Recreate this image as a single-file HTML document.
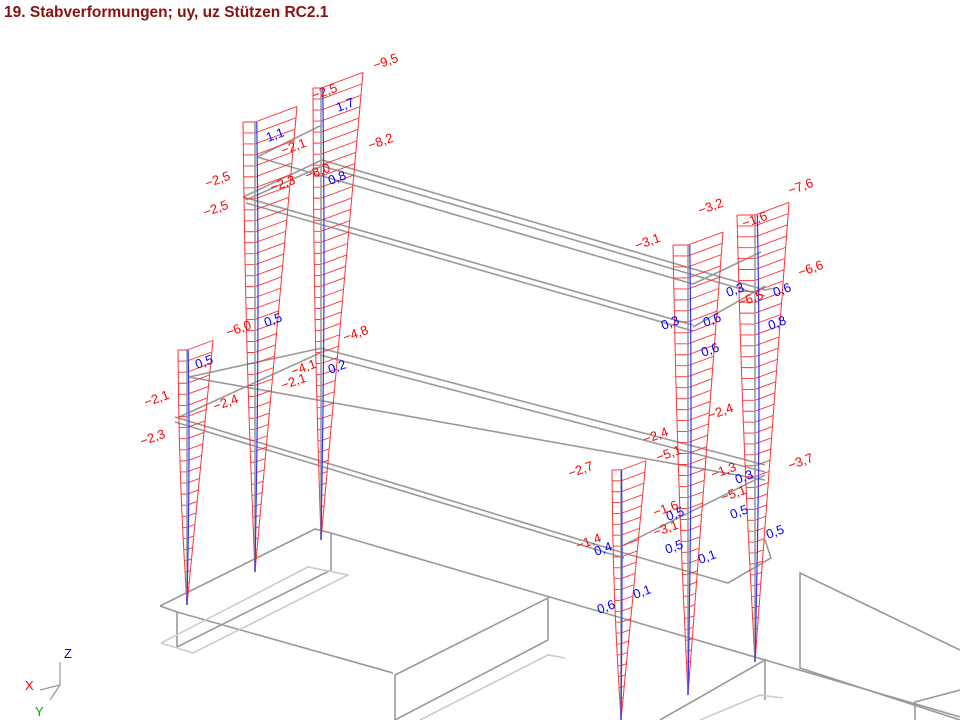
<!DOCTYPE html>
<html><head><meta charset="utf-8"><style>
html,body{margin:0;padding:0;background:#fff;width:960px;height:720px;overflow:hidden}
svg{display:block}
.r{fill:#f00}.b{fill:#00f}
text{font-family:"Liberation Sans",sans-serif;font-size:13px}
</style></head><body>
<svg id="s" width="960" height="720" viewBox="0 0 960 720" xmlns="http://www.w3.org/2000/svg">
<text x="4" y="17" style="font-size:15.5px;font-weight:bold;fill:#8b1010">19. Stabverformungen; uy, uz Stützen RC2.1</text>
<g id="frame" stroke="#999" stroke-width="1.6" fill="none">
<polyline points="160,606 315,529 331,533 331,570 177,647 177,612 160,606"/>
<line x1="177" y1="612" x2="393" y2="673"/>
<line x1="331" y1="533" x2="960" y2="717"/>
<polyline points="161,643 308,567 348,575 193,653 161,643" stroke="#ccc"/>
<polyline points="395,720 395,675 548,598 548,640 395,720"/>
<polyline points="420,720 548,655 565,658" stroke="#ccc"/>
<polyline points="660,720 765,660 765,700"/>
<polyline points="700,720 760,695 783,698" stroke="#ccc"/>
<polyline points="960,650 800,573 800,668 960,720"/>
<polyline points="915,720 915,702 960,690"/>
<line x1="189" y1="377" x2="322" y2="348"/>
<line x1="177" y1="418" x2="322" y2="352"/>
<line x1="320" y1="348" x2="765" y2="465"/>
<line x1="320" y1="355" x2="765" y2="472"/>
<line x1="175" y1="417" x2="624" y2="553"/>
<line x1="175" y1="422" x2="624" y2="558"/>
<line x1="189" y1="377" x2="765" y2="480"/>
<polyline points="624,553 728,583 771,558 765,540"/>
<line x1="624" y1="545" x2="690" y2="512"/>
<line x1="690" y1="512" x2="765" y2="475"/>
<line x1="257" y1="157" x2="322" y2="125"/>
<line x1="243" y1="197" x2="322" y2="160"/>
<line x1="246" y1="200" x2="322" y2="166"/>
<line x1="322" y1="160" x2="765" y2="290"/>
<line x1="322" y1="166" x2="765" y2="296"/>
<line x1="243" y1="197" x2="693" y2="325"/>
<line x1="246" y1="203" x2="693" y2="331"/>
<line x1="257" y1="157" x2="693" y2="284"/>
<line x1="693" y1="327" x2="765" y2="286"/>
<line x1="693" y1="284" x2="761" y2="252"/>
<line x1="765" y1="290" x2="775" y2="288"/>
</g>
<g id="cols"></g>
<g id="labels"></g>
<g stroke="#999" stroke-width="1.2" fill="none">
<line x1="60" y1="685" x2="60" y2="662"/>
<line x1="60" y1="685" x2="40" y2="690"/>
<line x1="60" y1="685" x2="50" y2="700"/>
</g>
<text x="64" y="658" style="fill:#00f;font-size:13px">Z</text>
<text x="25" y="690" style="fill:#f00;font-size:13px">X</text>
<text x="35" y="716" style="fill:#0a0;font-size:13px">Y</text>
</svg>
<script>
var NS="http://www.w3.org/2000/svg";
var cols=document.getElementById('cols');
function el(n,a){var e=document.createElementNS(NS,n);for(var k in a)e.setAttribute(k,a[k]);cols.appendChild(e);return e;}
var C=[[187,350,605,9,26,2],[255,122,572,12,42,3],[321,88,540,8,42,3],[621,470,720,9,25,1],[688,245,695,15,35,3],[755,215,662,18,34,4]];
C.forEach(function(c){
 var x=c[0],yt=c[1],yb=c[2],wl=c[3],wr=c[4],bo=c[5],n=Math.round((yb-yt)/11);
 var k=0.37, lp=[],rp=[],bp=[];
 for(var i=0;i<=n;i++){
  var t=i/n,y=yt+t*(yb-yt);
  var f=1-t, bulge=Math.sin(Math.PI*t)*2;
  var xl=x-wl*f-bulge, xr=x+wr*f;
  var yr=y-k*(xr-x);
  lp.push(xl+','+y); rp.push(xr+','+yr);
  bp.push((x+bo*Math.sin(Math.PI*(0.2+0.8*t)))+','+y);
  el('polyline',{points:xl+','+y+' '+x+','+y+' '+xr+','+yr,fill:'none',stroke:'#f33','stroke-width':0.9});
 }
 el('polyline',{points:lp.join(' '),fill:'none',stroke:'#f33','stroke-width':1});
 el('polyline',{points:rp.join(' '),fill:'none',stroke:'#f33','stroke-width':1});
 el('line',{x1:x,y1:yt,x2:x,y2:yb,stroke:'#999','stroke-width':1.6});
 el('polyline',{points:bp.join(' '),fill:'none',stroke:'#33f','stroke-width':1.2});
});
var R=[["−9,5",375,70],["−2,5",314,100],["−8,2",370,150],["−2,1",283,155],["−2,5",207,188],["−2,3",272,192],["−8,0",307,180],["−2,5",205,217],["−6,0",228,337],["−4,8",345,342],["−4,1",293,376],["−2,1",283,390],["−2,1",146,407],["−2,4",215,411],["−2,3",142,446],["−3,2",700,215],["−7,6",790,195],["−1,6",744,228],["−3,1",637,250],["−6,6",800,277],["−6,5",740,307],["−2,4",710,420],["−2,4",645,444],["−5,1",658,462],["−3,7",790,470],["−2,7",570,478],["−1,3",713,479],["−5,1",723,502],["−1,6",655,517],["−3,1",655,537],["−1,4",578,550]];
var B=[["1,1",268,142],["1,7",338,112],["0,8",330,185],["0,5",266,327],["0,5",197,369],["0,2",330,374],["0,3",728,297],["0,6",775,297],["0,3",663,330],["0,6",705,327],["0,8",770,330],["0,6",703,357],["0,3",737,484],["0,5",732,519],["0,5",768,539],["0,5",668,521],["0,5",667,554],["0,1",700,564],["0,4",596,556],["0,1",635,599],["0,6",599,614]];
var L=document.getElementById('labels');
function lab(a,cl){var t=document.createElementNS(NS,'text');t.setAttribute('x',a[1]);t.setAttribute('y',a[2]);t.setAttribute('class',cl);t.setAttribute('transform','rotate(-20 '+a[1]+' '+a[2]+')');t.textContent=a[0];L.appendChild(t);}
R.forEach(function(a){lab(a,'r')});B.forEach(function(a){lab(a,'b')});
</script>
</body></html>
